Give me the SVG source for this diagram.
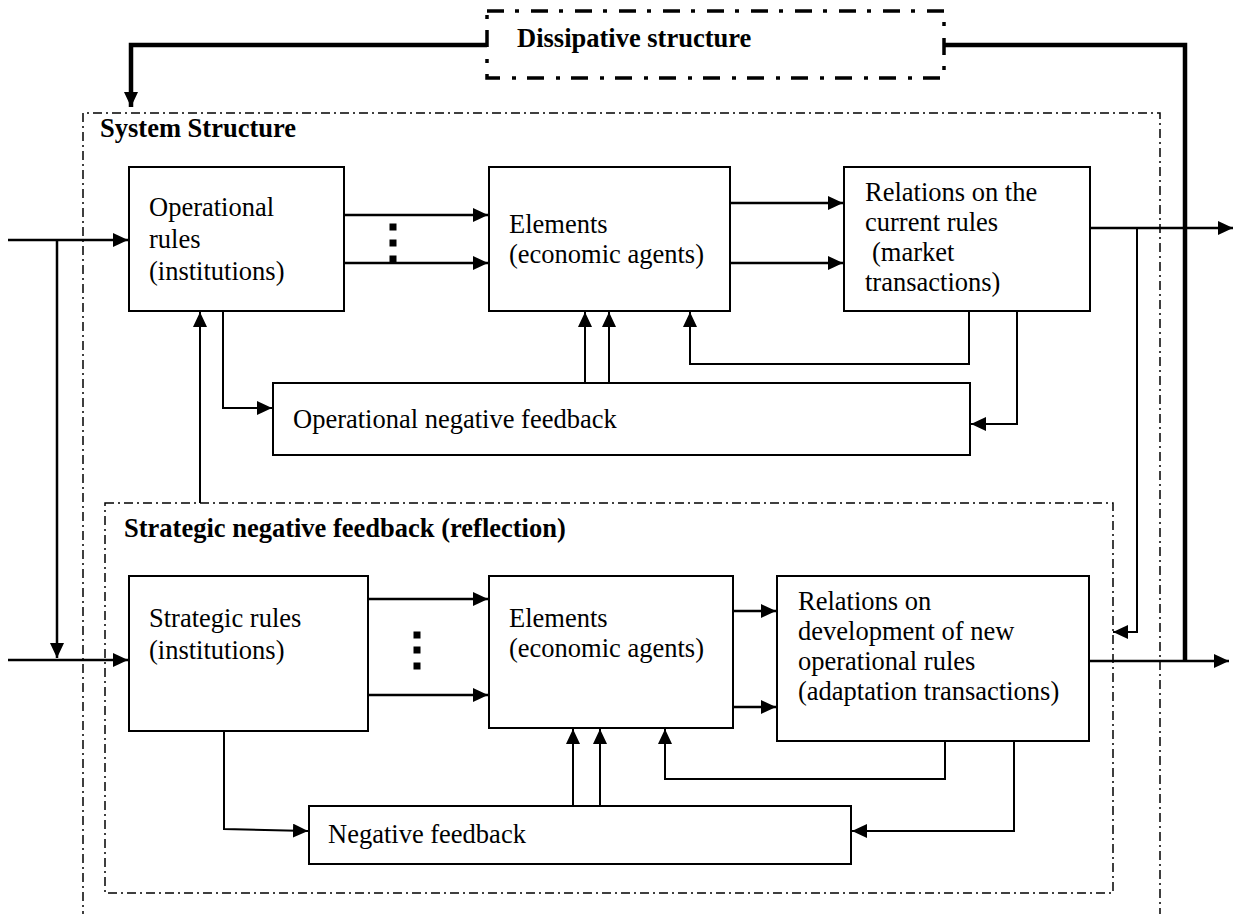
<svg xmlns="http://www.w3.org/2000/svg" width="1236" height="914" viewBox="0 0 1236 914">
<defs>
<marker id="ah" markerUnits="userSpaceOnUse" markerWidth="16" markerHeight="14" refX="15" refY="7" orient="auto"><path d="M0,0 L15,7 L0,14 z" fill="#000"/></marker>
</defs>
<style>
.box{fill:#fff;stroke:#000;stroke-width:2}
.t{font-family:"Liberation Serif","Times New Roman",serif;font-size:26.5px;fill:#000}
.b{font-weight:bold}
.c{fill:none;stroke:#000;stroke-width:2.5}
.thin{fill:none;stroke:#000;stroke-width:2}
.thick{fill:none;stroke:#000;stroke-width:4.5}
.dd{fill:none;stroke:#000;stroke-width:1.5;stroke-dasharray:9 4 2 4}
.ddt{fill:#fff;stroke:#000;stroke-width:3.5;stroke-dasharray:17 11 4 12}
.dot{fill:#000}
</style>
<rect width="1236" height="914" fill="#fff"/>

<g id="frames">
<path class="dd" d="M83,920 V113 H1160 V920"/>
<text class="t b" x="100" y="137">System Structure</text>
<rect class="dd" x="105" y="503" width="1008" height="390"/>
<text class="t b" x="124" y="537">Strategic negative feedback (reflection)</text>
</g>

<g id="dissipative">
<rect class="ddt" x="487" y="11" width="457" height="67"/>
<text class="t b" x="517" y="47">Dissipative structure</text>
</g>

<g id="op-rules">
<rect class="box" x="129" y="167" width="215" height="144"/>
<text class="t" x="149" y="216">Operational</text>
<text class="t" x="149" y="248">rules</text>
<text class="t" x="149" y="280">(institutions)</text>
</g>

<g id="op-elements">
<rect class="box" x="489" y="167" width="241" height="144"/>
<text class="t" x="509" y="233">Elements</text>
<text class="t" x="509" y="263">(economic agents)</text>
</g>

<g id="op-relations">
<rect class="box" x="844" y="167" width="246" height="144"/>
<text class="t" x="865" y="201">Relations on the</text>
<text class="t" x="865" y="231">current rules</text>
<text class="t" x="872" y="261">(market</text>
<text class="t" x="865" y="291">transactions)</text>
</g>

<g id="op-feedback">
<rect class="box" x="273" y="383" width="697" height="72"/>
<text class="t" x="293" y="428">Operational negative feedback</text>
</g>

<g id="st-rules">
<rect class="box" x="129" y="576" width="239" height="155"/>
<text class="t" x="149" y="627">Strategic rules</text>
<text class="t" x="149" y="659">(institutions)</text>
</g>

<g id="st-elements">
<rect class="box" x="489" y="576" width="244" height="152"/>
<text class="t" x="509" y="627">Elements</text>
<text class="t" x="509" y="657">(economic agents)</text>
</g>

<g id="st-relations">
<rect class="box" x="777" y="576" width="312" height="165"/>
<text class="t" x="798" y="610">Relations on</text>
<text class="t" x="798" y="640">development of new</text>
<text class="t" x="798" y="670">operational rules</text>
<text class="t" x="798" y="700">(adaptation transactions)</text>
</g>

<g id="st-feedback">
<rect class="box" x="309" y="806" width="542" height="58"/>
<text class="t" x="328" y="843">Negative feedback</text>
</g>

<g id="connectors">
<!-- dissipative structure links -->
<path class="thick" d="M487,45 H131 V107" marker-end="url(#ah)"/>
<path class="thick" d="M944,45 H1185 V661"/>
<!-- inputs -->
<path class="c" d="M8,240 H128" marker-end="url(#ah)"/>
<path class="c" d="M57,240 V658" marker-end="url(#ah)"/>
<path class="c" d="M8,660 H128" marker-end="url(#ah)"/>
<!-- top row -->
<path class="c" d="M344,215 H488" marker-end="url(#ah)"/>
<path class="c" d="M344,263 H488" marker-end="url(#ah)"/>
<rect class="dot" x="389.5" y="223.5" width="7" height="7"/>
<rect class="dot" x="389.5" y="239.5" width="7" height="7"/>
<rect class="dot" x="389.5" y="255.5" width="7" height="7"/>
<path class="c" d="M730,203 H843" marker-end="url(#ah)"/>
<path class="c" d="M730,263 H843" marker-end="url(#ah)"/>
<path class="c" d="M1090,228 H1233" marker-end="url(#ah)"/>
<path class="thin" d="M1137,228 V632 H1113" marker-end="url(#ah)"/>
<!-- op feedback loop -->
<path class="thin" d="M223,311 V408 H272" marker-end="url(#ah)"/>
<path class="thin" d="M585,383 V312" marker-end="url(#ah)"/>
<path class="thin" d="M609,383 V312" marker-end="url(#ah)"/>
<path class="thin" d="M969,311 V364 H690 V312" marker-end="url(#ah)"/>
<path class="thin" d="M1017,311 V424 H971" marker-end="url(#ah)"/>
<path class="thin" d="M200,503 V312" marker-end="url(#ah)"/>
<!-- bottom row -->
<path class="c" d="M368,599 H488" marker-end="url(#ah)"/>
<path class="c" d="M368,695 H488" marker-end="url(#ah)"/>
<rect class="dot" x="413.5" y="631.5" width="7" height="7"/>
<rect class="dot" x="413.5" y="646.5" width="7" height="7"/>
<rect class="dot" x="413.5" y="662.5" width="7" height="7"/>
<path class="c" d="M733,611 H776" marker-end="url(#ah)"/>
<path class="c" d="M733,707 H776" marker-end="url(#ah)"/>
<path class="c" d="M1089,661 H1229" marker-end="url(#ah)"/>
<!-- strategic feedback loop -->
<path class="thin" d="M224,731 V829 L308,831" marker-end="url(#ah)"/>
<path class="thin" d="M573,806 V729" marker-end="url(#ah)"/>
<path class="thin" d="M600,806 V729" marker-end="url(#ah)"/>
<path class="thin" d="M945,741 V779 H665 V729" marker-end="url(#ah)"/>
<path class="thin" d="M1014,741 V831 H852" marker-end="url(#ah)"/>
</g>
</svg>
